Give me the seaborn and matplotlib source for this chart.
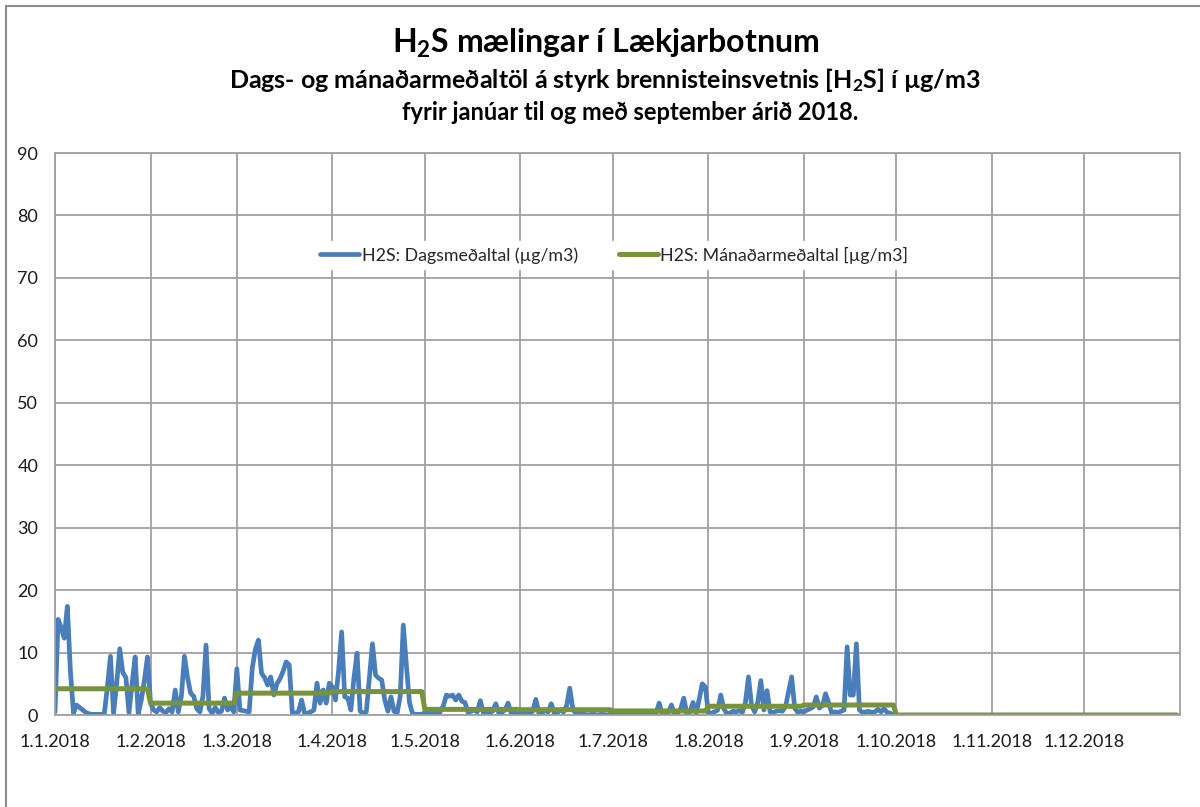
import numpy as np
import pandas as pd
import matplotlib
matplotlib.use("Agg")
import matplotlib.pyplot as plt
import seaborn as sns
from matplotlib.lines import Line2D

# ---------------- data ----------------
year = 2018
jan_daily = [0.5, 15.3, 14.0, 12.3, 17.4, 7.0, 0.3, 1.6, 1.2, 0.8, 0.4, 0.2, 0.1, 0.1, 0.1, 0.1,
             0.2, 4.5, 9.4, 0.3, 5.0, 10.6, 6.8, 6.0, 0.4, 5.0, 9.3, 0.2, 2.4, 5.5, 9.3]
feb_daily = [1.9, 0.8, 0.5, 1.2, 0.6, 0.4, 1.0, 0.5, 4.0, 0.5, 3.0, 9.4, 6.0, 3.5, 3.0, 1.0,
             0.5, 3.0, 11.2, 1.0, 0.3, 1.2, 0.4, 0.6, 2.7, 0.8, 1.3, 0.5]
mar_daily = [7.4, 0.8, 0.7, 0.6, 0.5, 7.5, 10.5, 12.0, 6.7, 6.0, 4.8, 6.1, 3.2, 5.0, 5.8, 7.0,
             8.5, 8.0, 0.3, 0.3, 0.5, 2.4, 0.2, 0.3, 0.5, 0.8, 5.1, 1.9, 4.0, 1.9, 5.1]
apr_daily = [4.5, 2.4, 7.0, 13.3, 2.9, 2.7, 0.8, 6.0, 9.9, 0.6, 0.3, 0.5, 6.0, 11.4, 6.4, 5.9,
             5.6, 2.4, 0.6, 2.9, 0.6, 0.3, 3.0, 14.4, 8.0, 2.0, 0.2, 0.1, 0.1, 0.1]
may_daily = [0.4, 0.3, 0.4, 0.3, 0.4, 0.5, 1.5, 3.2, 3.0, 3.2, 2.4, 3.2, 2.2, 2.0, 0.4, 0.6,
             0.8, 0.5, 2.3, 0.3, 0.5, 0.4, 0.6, 1.8, 0.3, 0.4, 0.8, 1.9, 0.3, 0.4, 0.2]
jun_daily = [0.2, 0.3, 0.2, 0.3, 0.6, 2.5, 0.3, 0.4, 0.7, 0.5, 1.8, 0.3, 0.4, 0.8, 0.5, 1.5,
             4.3, 1.0, 0.2, 0.1, 0.1, 0.1, 0.0, 0.1, 0.1, 0.0, 0.1, 0.1, 0.0, 0.1]
jul_daily = [0.1, 0.0, 0.1, 0.1, 0.0, 0.1, 0.1, 0.0, 0.1, 0.1, 0.0, 0.1, 0.1, 0.2, 0.3, 1.9,
             0.2, 0.3, 0.4, 1.6, 0.2, 0.3, 1.0, 2.7, 0.2, 0.4, 2.0, 0.3, 2.5, 5.0, 4.5]
aug_daily = [0.2, 0.3, 0.5, 0.8, 3.2, 1.0, 0.2, 0.3, 0.6, 0.5, 0.7, 0.4, 2.0, 6.1, 1.5, 0.5,
             2.0, 5.5, 0.8, 3.9, 0.5, 0.4, 0.6, 0.7, 0.6, 1.3, 3.7, 6.1, 1.1, 0.4, 0.6]
sep_daily = [0.5, 0.8, 1.0, 1.3, 2.9, 1.1, 1.5, 3.4, 2.0, 0.3, 0.5, 0.4, 0.6, 0.8, 10.9, 3.2,
             3.2, 11.4, 0.8, 0.4, 0.5, 0.6, 0.4, 0.5, 0.9, 0.5, 1.0, 0.4, 0.3, 0.0]

monthly_means = [4.2, 1.9, 3.5, 3.75, 0.9, 0.85, 0.65, 1.4, 1.6, 0.0, 0.0, 0.0]

tick_labels = ["1.1.2018", "1.2.2018", "1.3.2018", "1.4.2018", "1.5.2018", "1.6.2018",
               "1.7.2018", "1.8.2018", "1.9.2018", "1.10.2018", "1.11.2018", "1.12.2018"]
y_ticks = [0, 10, 20, 30, 40, 50, 60, 70, 80, 90]

label_daily = "H2S: Dagsmeðaltal (µg/m3)"
label_monthly = "H2S: Mánaðarmeðaltal [µg/m3]"
title_main = "H$_2$S mælingar í Lækjarbotnum"
title_sub1 = "Dags- og mánaðarmeðaltöl á styrk brennisteinsvetnis [H$_2$S] í µg/m3"
title_sub2 = "fyrir janúar til og með september árið 2018."

# ---------------- frames ----------------
daily_vals = np.concatenate([jan_daily, feb_daily, mar_daily, apr_daily, may_daily,
                             jun_daily, jul_daily, aug_daily, sep_daily])
daily_dates = pd.date_range(f"{year}-01-01", periods=len(daily_vals), freq="D")
df_daily = pd.DataFrame({"date": daily_dates, "value": daily_vals})

all_dates = pd.date_range(f"{year}-01-01", f"{year}-12-31", freq="D")
df_month = pd.DataFrame({"date": all_dates,
                         "value": np.array(monthly_means)[all_dates.month - 1]})

# ---------------- style ----------------
sns.set_theme(style="white")
plt.rcParams["font.family"] = ["Lato", "DejaVu Sans"]
plt.rcParams["mathtext.fontset"] = "custom"
plt.rcParams["mathtext.rm"] = "Lato:bold"
plt.rcParams["mathtext.it"] = "Lato:bold"
plt.rcParams["mathtext.bf"] = "Lato:bold"

fig = plt.figure(figsize=(12, 8.07), dpi=100)
ax = fig.add_axes([55 / 1200, 1 - 715 / 807, 1125 / 1200, 562 / 807])

blue = "#4A7EBB"
green = "#77933C"
grid_c = "#A0A0A0"

sns.lineplot(data=df_daily, x="date", y="value", ax=ax, color=blue, linewidth=3.4,
             label=label_daily)
sns.lineplot(data=df_month, x="date", y="value", ax=ax, color=green, linewidth=3.6,
             label=label_monthly)

ax.set_xlim(pd.Timestamp(f"{year}-01-01"), pd.Timestamp(f"{year + 1}-01-01"))
ax.set_ylim(0, 90)
ax.set_yticks(y_ticks)
ax.set_yticklabels([str(v) for v in y_ticks])
month_starts = pd.date_range(f"{year}-01-01", periods=12, freq="MS")
ax.set_xticks(month_starts)
ax.set_xticklabels(tick_labels)
ax.set_xlabel("")
ax.set_ylabel("")

ax.grid(True, color=grid_c, linewidth=1.3)
ax.set_axisbelow(True)
for s in ax.spines.values():
    s.set_color(grid_c)
    s.set_linewidth(1.3)
ax.tick_params(axis="both", length=0, labelsize=13, colors="#1a1a1a")
ax.tick_params(axis="y", pad=12)
ax.tick_params(axis="x", pad=14)

leg = ax.legend(loc="center", bbox_to_anchor=(0.497, 0.8185), ncol=2, frameon=True,
                fontsize=12.8, handlelength=2.2, columnspacing=2.3, handletextpad=0.15,
                borderpad=0.3)
leg.get_frame().set_facecolor("white")
leg.get_frame().set_edgecolor("white")
leg.get_frame().set_alpha(1.0)

# titles
fig.text(0.505, 1 - 43 / 807, title_main, ha="center", va="center", fontsize=23,
         fontweight="bold", color="black")
fig.text(0.504, 1 - 80 / 807, title_sub1, ha="center", va="center", fontsize=18,
         fontweight="bold", color="black")
fig.text(0.525, 1 - 113 / 807, title_sub2, ha="center", va="center", fontsize=17,
         fontweight="bold", color="black")

# chart-area border (cropped screenshot)
fig.add_artist(Line2D([5.5 / 1200, 5.5 / 1200], [0, 1 - 5.5 / 807], transform=fig.transFigure,
                      color="#8C8C8C", linewidth=1.5))
fig.add_artist(Line2D([5.5 / 1200, 1], [1 - 5.5 / 807, 1 - 5.5 / 807], transform=fig.transFigure,
                      color="#8C8C8C", linewidth=1.5))

fig.savefig("out.png", dpi=100, facecolor="white")
